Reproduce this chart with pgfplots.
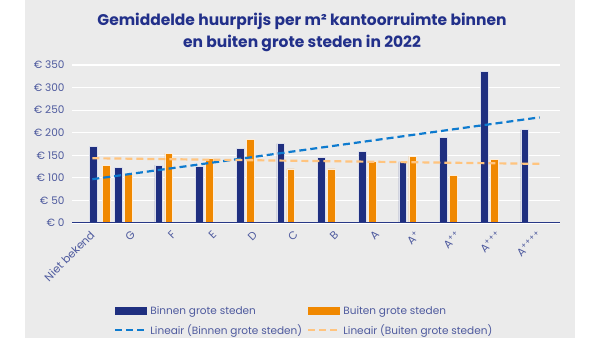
\documentclass[border=0pt]{standalone}
\usepackage{pgfplots}
\pgfplotsset{compat=1.18}
\usepackage{fontspec}
\setmainfont{Poppins}
\definecolor{bgray}{HTML}{EBEBEB}
\definecolor{navy}{HTML}{1F2F80}
\definecolor{orng}{HTML}{F08800}
\definecolor{tblue}{HTML}{0E7BCF}
\definecolor{torng}{HTML}{FFC47F}
\definecolor{titlec}{HTML}{22308A}
\definecolor{labc}{HTML}{4E5A9E}
\begin{document}
\begin{tikzpicture}[x=1bp,y=1bp]
\fill[white] (0,0) rectangle (600,338);
\fill[bgray] (25,0) rectangle (575,338);
\node[align=center, text=titlec, font=\fontsize{15.5bp}{22bp}\selectfont\bfseries] at (302,306)
  {Gemiddelde huurprijs per m² kantoorruimte binnen\\en buiten grote steden in 2022};
\begin{axis}[
  at={(72bp,115bp)}, anchor=south west,
  scale only axis, width=488bp, height=158bp,
  xmin=-0.5, xmax=11.5, ymin=0, ymax=350,
  axis line style={draw=none},
  axis x line*=bottom,
  xtick={0,...,11},
  xticklabels={Niet bekend,G,F,E,D,C,B,A,A\textsuperscript{+},A\textsuperscript{+}\textsuperscript{+},A\textsuperscript{+}\textsuperscript{+}\textsuperscript{+},A\textsuperscript{+}\textsuperscript{+}\textsuperscript{+}\textsuperscript{+}},
  xticklabel style={yshift=-9bp, xshift=1bp, rotate=45, anchor=east, font=\fontsize{11bp}{12bp}\selectfont, text=labc, inner sep=1bp},
  major x tick style={draw=none},
  ytick={0,50,...,350},
  yticklabels={€ 0,€ 50,€ 100,€ 150,€ 200,€ 250,€ 300,€ 350},
  yticklabel style={xshift=-4bp, font=\fontsize{10.5bp}{12bp}\selectfont, text=labc},
  major y tick style={draw=none},
  ymajorgrids, grid style={white, line width=1.2bp},
  axis background/.style={fill=bgray},
  legend columns=2,
  legend cell align=left,
  legend style={draw=none, fill=none, at={(0.08,-0.50)}, anchor=north west,
    font=\fontsize{10.5bp}{12bp}\selectfont, text=labc,
    /tikz/every even column/.append style={column sep=3bp},
    row sep=5bp},
]
% bars, Binnen grote steden
\addplot[ybar, bar width=7.5bp, bar shift=-15bp, fill=navy, draw=white!85!navy, line width=0.5bp,
  legend image code/.code={\fill[navy] (0bp,-3.5bp) rectangle (31bp,3.5bp);}]
  coordinates {(1,123) (2,128) (3,126) (4,165) (5,176) (6,145) (7,159) (8,136) (9,189) (10,336) (11,207)};
\addlegendentry{Binnen grote steden}
\addplot[ybar, bar width=7.5bp, bar shift=-5bp, fill=orng, draw=white!85!orng, line width=0.5bp,
  legend image code/.code={\fill[orng] (0bp,-3.5bp) rectangle (31bp,3.5bp);}]
  coordinates {(1,110) (2,154) (3,143) (4,186) (5,120) (6,120) (7,137) (8,148) (9,106) (10,141)};
\addlegendentry{Buiten grote steden}
% Niet bekend group
\addplot[ybar, bar width=7.5bp, bar shift=1bp, fill=navy, draw=white!85!navy, line width=0.5bp, forget plot]
  coordinates {(0,169)};
\addplot[ybar, bar width=7.5bp, bar shift=14bp, fill=orng, draw=white!85!orng, line width=0.5bp, forget plot]
  coordinates {(0,127)};
% trend lines
\addplot[tblue, line width=2.2bp, dash pattern=on 7bp off 4bp,
  legend image code/.code={\draw[tblue, line width=2.2bp, dash pattern=on 7bp off 4bp] (0bp,0bp) -- (32bp,0bp);}]
  coordinates {(0,97) (11,234)};
\addlegendentry{Lineair (Binnen grote steden)}
\addplot[torng, line width=2.2bp, dash pattern=on 7bp off 4bp,
  legend image code/.code={\draw[torng, line width=2.2bp, dash pattern=on 7bp off 4bp] (0bp,0bp) -- (32bp,0bp);}]
  coordinates {(0,143.5) (11,131)};
\addlegendentry{Lineair (Buiten grote steden)}
\draw[navy!80!labc, line width=1bp] (rel axis cs:0,0) -- (rel axis cs:1,0);
\end{axis}
\end{tikzpicture}
\end{document}
